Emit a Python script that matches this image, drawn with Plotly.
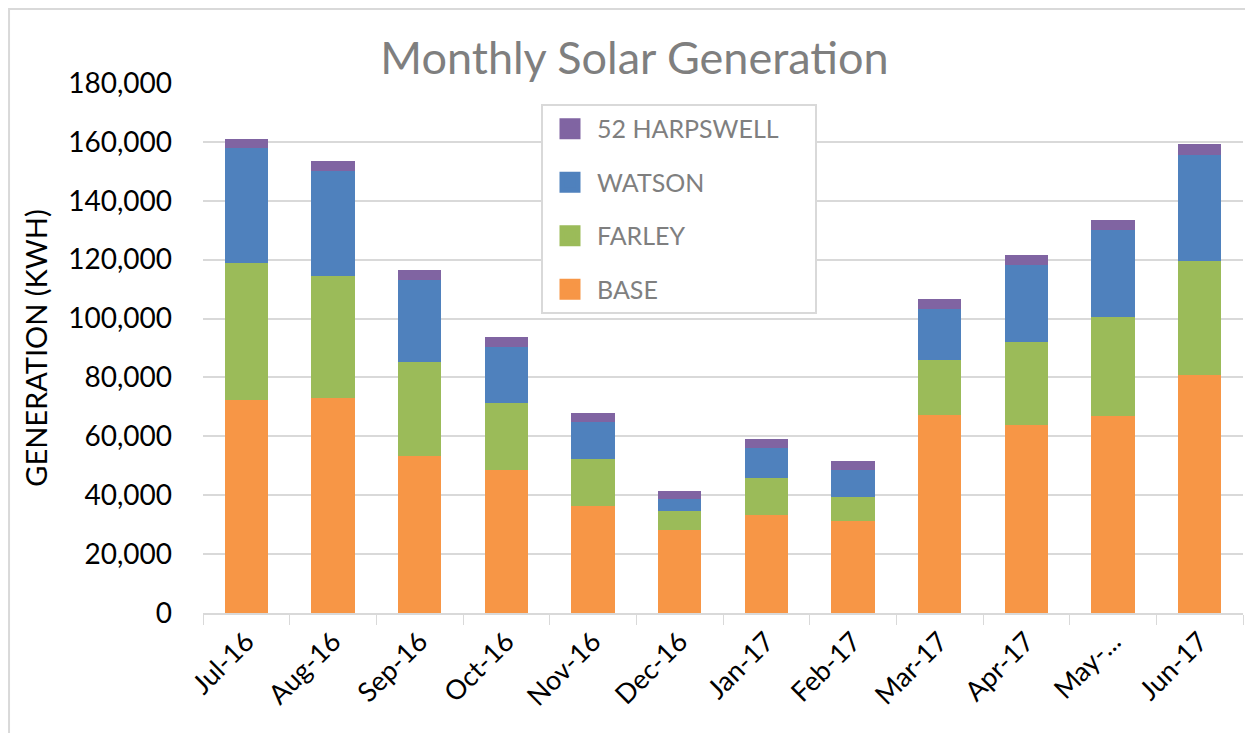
import plotly.graph_objects as go

# monthly generation (kWh)
months = ["Jul-16", "Aug-16", "Sep-16", "Oct-16", "Nov-16", "Dec-16",
          "Jan-17", "Feb-17", "Mar-17", "Apr-17", "May-...", "Jun-17"]

base = [72400, 73000, 53400, 48700, 36400, 28100, 33400, 31100, 67300, 63900, 67000, 80700]
farley = [46500, 41300, 32000, 22600, 15900, 6400, 12400, 8300, 18700, 28300, 33500, 39000]
watson = [39000, 35700, 27800, 19200, 12400, 4200, 10200, 9000, 17200, 26100, 29700, 35900]
harpswell = [3100, 3500, 3300, 3200, 3200, 2900, 3100, 3100, 3400, 3300, 3400, 3700]

series = [
    ("BASE", base, "#F79646"),
    ("FARLEY", farley, "#9BBB59"),
    ("WATSON", watson, "#4F81BD"),
    ("52 HARPSWELL", harpswell, "#8064A2"),
]

fig = go.Figure()
for name, vals, col in series:
    fig.add_trace(go.Bar(
        x=months, y=vals, name=name,
        marker=dict(color=col, line=dict(width=0)),
        showlegend=False,
    ))

# legend entries with bigger square swatches (top of stack first)
# nbsp padding on the longest label widens the legend box like the original
for name, vals, col in reversed(series):
    label = name + "\u00a0" * 5 if name == "52 HARPSWELL" else name
    fig.add_trace(go.Scatter(
        x=[None], y=[None], name=label, mode="markers",
        marker=dict(symbol="square", size=16, color=col,
                    line=dict(color=col, width=5)),
        legendgroup=name,
    ))

fig.update_layout(
    barmode="stack",
    bargap=0.5,
    width=1253, height=733,
    paper_bgcolor="white",
    plot_bgcolor="white",
    font=dict(family="Lato", size=28, color="black"),
    title=dict(
        text="Monthly Solar Generation",
        x=0.5, xanchor="center",
        y=0.932, yanchor="middle",
        font=dict(family="Lato", size=45, color="#7f7f7f"),
    ),
    margin=dict(l=195, r=18, t=75, b=128),
    legend=dict(
        traceorder="grouped",
        tracegroupgap=18,
        x=0.325, xanchor="left",
        y=0.9604, yanchor="top",
        bgcolor="white",
        bordercolor="#d9d9d9",
        borderwidth=2,
        font=dict(family="Lato", size=25, color="#7f7f7f"),
        itemwidth=44,
    ),
    xaxis=dict(
        tickangle=-45,
        showline=True, linecolor="#d9d9d9", linewidth=2,
        ticks="outside", tickson="boundaries", ticklen=10, tickcolor="#d9d9d9",
        tickfont=dict(size=27),
    ),
    yaxis=dict(
        range=[0, 180000],
        dtick=20000,
        tickformat=",",
        gridcolor="#d9d9d9", gridwidth=2,
        zeroline=False,
        ticklabelstandoff=30,
        title=dict(text="GENERATION (KWH)", font=dict(size=29), standoff=12),
        tickfont=dict(size=28),
    ),
)

# outer chart border
fig.add_shape(type="rect", xref="paper", yref="paper",
              x0=-0.1865, x1=1.03, y0=-0.3, y1=1.1396,
              line=dict(color="#d9d9d9", width=2))

fig.write_html("out.html")
